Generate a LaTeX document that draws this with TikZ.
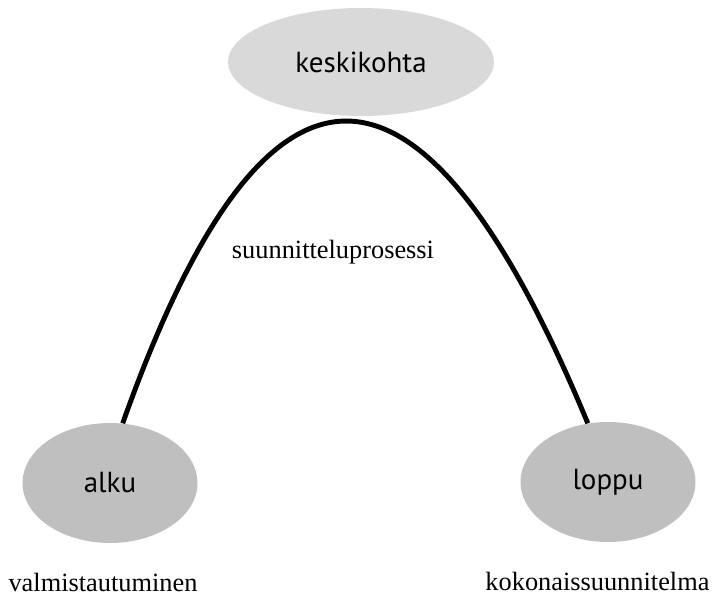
\documentclass[tikz,border=0pt]{standalone}
\usepackage{fontspec}
\setmainfont{Liberation Serif}
\setsansfont{PT Sans}
\usepackage{xcolor}
\usetikzlibrary{positioning,shapes.geometric}

\definecolor{midgray}{HTML}{D9D9D9}
\definecolor{endgray}{HTML}{BFBFBF}

\begin{document}
\begin{tikzpicture}[
      x=0.02cm, y=-0.02cm,
      phase/.style = {ellipse, inner sep=0pt, fill=endgray,
                      minimum width=3.5cm, minimum height=2.4cm,
                      font=\sffamily\fontsize{16.5}{20}\selectfont},
      caption/.style = {inner sep=0pt, font=\fontsize{15}{18}\selectfont},
      flow/.style = {line width=2.8pt}
    ]
    \useasboundingbox (0,0) rectangle (716,597);

    \node (kesk)  [phase, fill=midgray, minimum width=5.32cm,
                   minimum height=2.16cm] at (361,62) {keskikohta};
    \node (alku)  [phase] at (110,483) {alku};
    \node (loppu) [phase] at (608,482) {loppu};

    \node (valm)  [caption, below=0.6cm of alku, xshift=-4] {valmistautuminen};
    \node (koko)  [caption, below=0.6cm of loppu, xshift=-6] {kokonaissuunnitelma};
    \node (proc)  [caption] at (333,252) {suunnitteluprosessi};

    % the arch from start to end
    \draw[flow] (alku.78) .. controls +(143,-403) and +(-167,-403) .. (loppu.109);
  \end{tikzpicture}
\end{document}
